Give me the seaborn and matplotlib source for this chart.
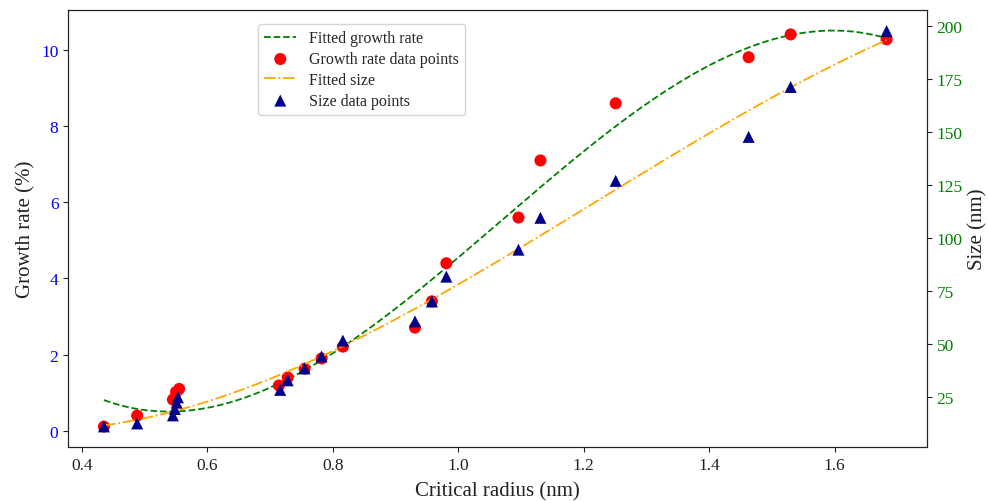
import numpy as np
import pandas as pd
import matplotlib
matplotlib.use("Agg")
import matplotlib.pyplot as plt
import seaborn as sns

# ---- data ----
radius = [0.435, 0.488, 0.545, 0.550, 0.555, 0.714, 0.728, 0.755, 0.782, 0.816,
          0.931, 0.958, 0.981, 1.096, 1.131, 1.251, 1.463, 1.530, 1.683]
growth = [0.11, 0.40, 0.82, 1.02, 1.10, 1.19, 1.40, 1.63, 1.90, 2.21,
          2.71, 3.40, 4.40, 5.60, 7.10, 8.60, 9.81, 10.41, 10.28]

size_radius = [0.435, 0.488, 0.545, 0.548, 0.551, 0.553, 0.716, 0.728, 0.755, 0.782,
               0.816, 0.931, 0.958, 0.981, 1.096, 1.131, 1.251, 1.463, 1.530, 1.683]
size_nm = [11.3, 12.7, 16.5, 19.5, 22.5, 25.0, 28.5, 33.0, 38.6, 44.2,
           51.7, 60.7, 70.1, 81.8, 94.5, 109.5, 126.9, 147.6, 171.1, 197.4]

xticks = [0.4, 0.6, 0.8, 1.0, 1.2, 1.4, 1.6]
left_ticks = [0, 2, 4, 6, 8, 10]
right_ticks = [25, 50, 75, 100, 125, 150, 175, 200]

# ---- fits (as in the original: polynomial fits of the data) ----
xfit = np.linspace(min(radius), max(radius), 300)
g_coef = np.polyfit(radius, growth, 3)
s_coef = np.polyfit(size_radius, size_nm, 3)
fit_g = pd.DataFrame({"x": xfit, "y": np.polyval(g_coef, xfit)})
fit_s = pd.DataFrame({"x": xfit, "y": np.polyval(s_coef, xfit)})
pts_g = pd.DataFrame({"x": radius, "y": growth})
pts_s = pd.DataFrame({"x": size_radius, "y": size_nm})

sns.set_style("ticks")
plt.rcParams["font.family"] = ["Liberation Serif", "DejaVu Serif"]
plt.rcParams["axes.edgecolor"] = "#222222"
plt.rcParams["xtick.color"] = "#222222"
plt.rcParams["ytick.color"] = "#222222"

fig, ax = plt.subplots(figsize=(9.88, 5.02), dpi=100)
fig.subplots_adjust(left=0.069, right=0.938, top=0.978, bottom=0.108)

sns.lineplot(data=fit_g, x="x", y="y", ax=ax, color="green", linestyle="--",
             linewidth=1.3, label="Fitted growth rate", legend=False)
sns.scatterplot(data=pts_g, x="x", y="y", ax=ax, color="red", marker="o", s=75,
                edgecolor="none", label="Growth rate data points", legend=False, zorder=3)

ax2 = ax.twinx()
sns.lineplot(data=fit_s, x="x", y="y", ax=ax2, color="orange", linestyle="-.",
             linewidth=1.3, label="Fitted size", legend=False)
sns.scatterplot(data=pts_s, x="x", y="y", ax=ax2, color="darkblue", marker="^", s=75,
                edgecolor="none", label="Size data points", legend=False, zorder=3)

ax.set_xticks(xticks)
ax.set_yticks(left_ticks)
ax2.set_yticks(right_ticks)
ax.set_xlabel("Critical radius (nm)", fontsize=15, color="#222222", labelpad=6)
ax.set_ylabel("Growth rate (%)", fontsize=15, color="#222222")
ax2.set_ylabel("Size (nm)", fontsize=15, color="#222222")
ax.tick_params(axis="x", labelsize=12.5, labelcolor="#222222")
ax.tick_params(axis="y", labelsize=12.5, labelcolor="blue")
ax2.tick_params(axis="y", labelsize=12.5, labelcolor="green")
ax.set_ylim(-0.42, 11.05)
ax2.set_ylim(1.7, 207.3)
ax.set_xlim(0.378, 1.747)

h1, l1 = ax.get_legend_handles_labels()
h2, l2 = ax2.get_legend_handles_labels()
ax.legend(h1 + h2, l1 + l2, loc="upper left", bbox_to_anchor=(0.221, 0.968),
          borderaxespad=0, fontsize=11.5, labelspacing=0.3, frameon=True,
          edgecolor="#cccccc")

fig.savefig("out.png", dpi=100)
